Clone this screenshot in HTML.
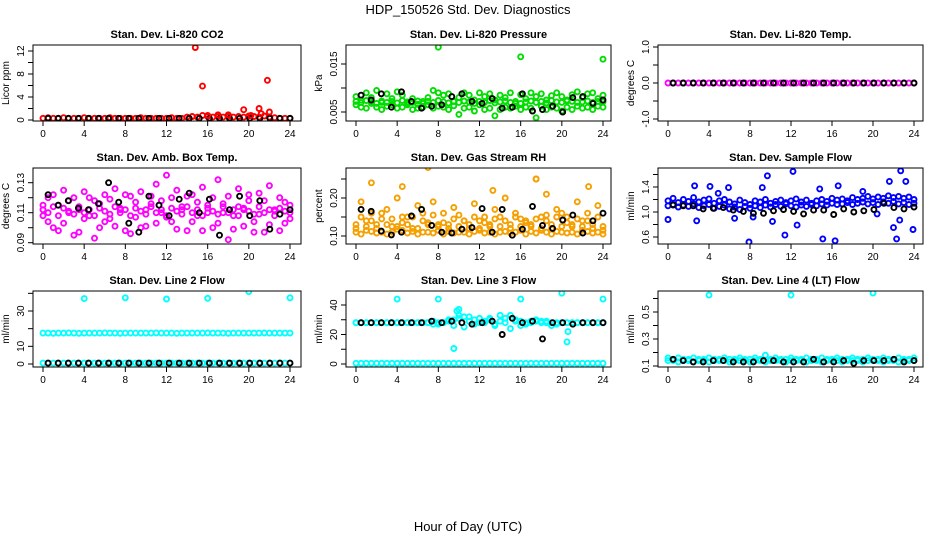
<!DOCTYPE html>
<html><head><meta charset="utf-8"><style>
body{margin:0;background:#fff;}
svg{display:block;font-family:"Liberation Sans",Arial,sans-serif;}
</style></head><body>
<svg id="chart" width="936" height="540" viewBox="0 0 936 540">
<text x="468" y="14" font-size="13" text-anchor="middle">HDP_150526 Std. Dev. Diagnostics</text>
<text x="468" y="531" font-size="13" text-anchor="middle">Hour of Day (UTC)</text>
</svg>
<script>
// ---- data (hours: half-hour grid for 49-value series, hourly 0.5..24 for 25-value series) ----
var xTickLabels = [0,4,8,12,16,20,24];

var co2Red = [0.3,0.4,0.3,0.3,0.4,0.3,0.3,0.3,0.4,0.3,0.3,0.3,0.3,0.4,0.3,0.3,0.3,0.3,0.3,0.4,0.3,0.3,0.3,0.3,0.3,0.4,0.3,0.3,0.5,0.6,0.5,0.8,0.6,0.5,0.6,0.5,0.6,0.5,0.6,0.5,0.7,0.6,0.5,0.7,0.5,0.4,0.3,0.3,0.3];
var co2RedOutX = [14.8,15.5,21.8,19.5,21.0,22.0,16.0,17.0,21.2,20.2,18.0];
var co2RedOutY = [12.6,5.9,6.9,1.8,2.0,1.4,0.8,0.9,1.1,0.8,0.9];
var co2Black = [0.3,0.3,0.3,0.3,0.3,0.3,0.3,0.3,0.3,0.3,0.3,0.3,0.3,0.3,0.3,0.3,0.3,0.3,0.3,0.3,0.3,0.3,0.3,0.3,0.3];

var prGreenA = [0.0082,0.0075,0.0090,0.0080,0.0095,0.0070,0.0088,0.0078,0.0092,0.0085,0.0068,0.0078,0.0066,0.0072,0.0080,0.0095,0.0090,0.0085,0.0088,0.0072,0.0080,0.0090,0.0085,0.0075,0.0090,0.0082,0.0088,0.0075,0.0085,0.0080,0.0090,0.0068,0.0086,0.0078,0.0090,0.0082,0.0088,0.0075,0.0084,0.0090,0.0082,0.0075,0.0086,0.0092,0.0080,0.0088,0.0090,0.0078,0.0085];
var prGreenB = [0.0065,0.0060,0.0058,0.0068,0.0060,0.0055,0.0062,0.0065,0.0058,0.0060,0.0065,0.0055,0.0058,0.0060,0.0065,0.0058,0.0062,0.0060,0.0055,0.0063,0.0045,0.0058,0.0060,0.0052,0.0065,0.0055,0.0058,0.0042,0.0055,0.0060,0.0058,0.0062,0.0055,0.0060,0.0058,0.0038,0.0062,0.0055,0.0060,0.0058,0.0052,0.0060,0.0055,0.0062,0.0058,0.0060,0.0055,0.0062,0.0060];
var prGreenC = [0.0072,0.0070,0.0074,0.0071,0.0068,0.0073,0.0070,0.0072,0.0069,0.0074,0.0071,0.0070,0.0073,0.0068,0.0072,0.0070,0.0074,0.0071,0.0069,0.0072,0.0070,0.0073,0.0071,0.0068,0.0072,0.0070,0.0074,0.0069,0.0071,0.0073,0.0070,0.0072,0.0068,0.0071,0.0073,0.0070,0.0072,0.0069,0.0074,0.0071,0.0070,0.0073,0.0072,0.0070,0.0071,0.0073,0.0070,0.0072,0.0071];
var prOutX = [8.0,16.0,24.0];
var prOutY = [0.0185,0.0165,0.0160];
var prBlack = [0.0085,0.0075,0.0088,0.0060,0.0092,0.0072,0.0058,0.0062,0.0065,0.0082,0.0088,0.0072,0.0068,0.0078,0.0058,0.0060,0.0088,0.0052,0.0055,0.0062,0.0050,0.0080,0.0082,0.0068,0.0075];

var ambMagA = [0.115,0.104,0.122,0.098,0.125,0.110,0.120,0.097,0.124,0.108,0.118,0.100,0.122,0.106,0.126,0.112,0.098,0.121,0.107,0.124,0.101,0.116,0.129,0.110,0.135,0.104,0.125,0.112,0.098,0.122,0.108,0.127,0.115,0.100,0.132,0.110,0.121,0.099,0.126,0.112,0.118,0.104,0.123,0.097,0.128,0.111,0.120,0.103,0.115];
var ambMagB = [0.108,0.120,0.100,0.115,0.103,0.118,0.095,0.112,0.106,0.120,0.093,0.116,0.104,0.119,0.101,0.113,0.122,0.096,0.117,0.100,0.112,0.121,0.103,0.118,0.107,0.120,0.099,0.114,0.121,0.104,0.117,0.098,0.110,0.120,0.103,0.116,0.092,0.108,0.114,0.101,0.122,0.097,0.109,0.118,0.102,0.112,0.098,0.117,0.106];
var ambMagC = [0.112,0.110,0.114,0.108,0.113,0.111,0.109,0.114,0.110,0.112,0.108,0.113,0.111,0.109,0.114,0.110,0.112,0.108,0.113,0.111,0.109,0.114,0.110,0.112,0.108,0.113,0.111,0.109,0.114,0.110,0.112,0.108,0.113,0.111,0.109,0.114,0.110,0.112,0.108,0.113,0.111,0.109,0.114,0.110,0.112,0.108,0.113,0.111,0.110];
var ambBlack = [0.122,0.115,0.118,0.113,0.112,0.116,0.130,0.117,0.103,0.097,0.121,0.115,0.108,0.119,0.123,0.110,0.119,0.095,0.112,0.121,0.108,0.118,0.099,0.109,0.112];

var rhOrA = [0.120,0.190,0.115,0.160,0.130,0.110,0.170,0.125,0.200,0.115,0.150,0.120,0.180,0.110,0.135,0.190,0.115,0.160,0.120,0.175,0.110,0.140,0.120,0.185,0.115,0.150,0.125,0.170,0.110,0.200,0.120,0.160,0.115,0.140,0.125,0.250,0.115,0.155,0.120,0.170,0.110,0.150,0.125,0.190,0.115,0.160,0.120,0.180,0.115];
var rhOrB = [0.110,0.105,0.140,0.112,0.108,0.145,0.105,0.110,0.118,0.150,0.108,0.112,0.105,0.160,0.110,0.108,0.130,0.105,0.112,0.108,0.155,0.110,0.105,0.112,0.140,0.108,0.110,0.105,0.150,0.112,0.108,0.110,0.145,0.105,0.112,0.108,0.150,0.110,0.105,0.112,0.160,0.108,0.110,0.105,0.140,0.112,0.108,0.110,0.105];
var rhOrC = [0.130,0.150,0.125,0.140,0.120,0.160,0.130,0.145,0.125,0.135,0.130,0.150,0.120,0.140,0.130,0.155,0.125,0.135,0.130,0.145,0.125,0.140,0.130,0.150,0.120,0.135,0.130,0.145,0.125,0.140,0.130,0.150,0.125,0.135,0.130,0.145,0.120,0.140,0.130,0.150,0.125,0.135,0.130,0.145,0.125,0.140,0.130,0.150,0.125];
var rhOutX = [1.5,7.0,13.3,17.5,18.5,22.6,4.5];
var rhOutY = [0.24,0.28,0.22,0.25,0.21,0.23,0.23];
var rhBlack = [0.170,0.165,0.113,0.103,0.110,0.153,0.170,0.128,0.110,0.108,0.118,0.122,0.172,0.110,0.170,0.102,0.118,0.178,0.128,0.120,0.142,0.155,0.108,0.140,0.160];

var sfBlueA = [1.18,1.22,1.15,1.20,1.17,1.23,1.16,1.19,1.21,1.14,1.18,1.20,1.16,1.13,1.19,1.15,1.12,1.18,1.16,1.20,1.14,1.17,1.19,1.15,1.18,1.21,1.16,1.19,1.14,1.18,1.20,1.17,1.22,1.19,1.21,1.18,1.23,1.20,1.22,1.25,1.21,1.24,1.22,1.26,1.23,1.25,1.22,1.24,1.20];
var sfBlueB = [1.10,1.12,1.08,1.11,1.09,1.13,1.07,1.10,1.12,1.06,1.09,1.11,1.05,1.08,1.04,1.09,1.06,1.10,1.07,1.11,1.08,1.12,1.09,1.13,1.10,1.08,1.11,1.09,1.12,1.10,1.13,1.11,1.14,1.12,1.13,1.15,1.12,1.14,1.16,1.13,1.15,1.12,1.16,1.14,1.17,1.13,1.15,1.12,1.14];
var sfOutX = [0.0,2.6,2.8,4.1,5.9,7.9,9.2,9.7,10.2,11.4,12.2,12.6,15.1,16.3,16.6,19.0,20.4,21.6,22.0,22.3,22.6,22.7,23.2,23.9,14.8,8.3,6.5,4.9];
var sfOutY = [0.88,1.42,0.86,1.41,1.39,0.52,1.39,1.58,0.85,0.63,1.65,0.79,0.57,0.54,1.42,1.33,0.97,1.49,0.75,0.57,0.87,1.66,1.49,0.72,1.37,0.92,0.90,1.30];
var sfBlack = [1.11,1.10,1.10,1.05,1.06,1.07,1.03,1.01,0.98,0.98,1.02,1.04,1.01,0.97,1.03,1.03,0.96,1.05,1.00,1.02,1.04,1.14,1.07,1.05,1.08];

var l2CyanHigh = [17.5,17.5,17.4,17.5,17.5,17.6,17.5,17.4,17.5,17.5,17.5,17.5,17.6,17.5,17.5,17.4,17.5,17.5,17.5,17.5,17.5,17.5,17.6,17.5,17.5,17.5,17.4,17.5,17.5,17.5,17.5,17.5,17.6,17.5,17.5,17.5,17.4,17.5,17.5,17.5,17.5,17.5,17.5,17.6,17.5,17.5,17.5,17.5,17.5];
var l2CyanLow = [0.5,0.5,0.5,0.5,0.5,0.5,0.5,0.5,0.5,0.5,0.5,0.5,0.5,0.5,0.5,0.5,0.5,0.5,0.5,0.5,0.5,0.5,0.5,0.5,0.5,0.5,0.5,0.5,0.5,0.5,0.5,0.5,0.5,0.5,0.5,0.5,0.5,0.5,0.5,0.5,0.5,0.5,0.5,0.5,0.5,0.5,0.5,0.5,0.5];
var l2OutX = [4.0,8.0,12.0,16.0,20.0,24.0];
var l2OutY = [37.0,37.5,36.8,37.2,41.0,37.5];
var l2Black = [0.5,0.5,0.5,0.5,0.5,0.5,0.5,0.5,0.5,0.5,0.5,0.5,0.5,0.5,0.5,0.5,0.5,0.5,0.5,0.5,0.5,0.5,0.5,0.5,0.5];

var l3CyanHigh = [28,28,28,28,28,28,28,28,28,28,28,28,28,28,28,29,28,28,29,30,31,32,29,27,31,28,30,27,29,31,33,30,26,28,29,29,28,29,28,27,28,28,28,28,28,28,28,28,28];
var l3CyanHigh2 = [28,28,28,28,28,28,28,28,28,28,28,28,28,28,28,27,27,28,30,26,33,25,32,30,28,29,31,26,33,28,24,29,29,27,28,30,29,28,26,28,28,28,28,28,28,28,28,28,28];
var l3CyanLow = [0.5,0.5,0.5,0.5,0.5,0.5,0.5,0.5,0.5,0.5,0.5,0.5,0.5,0.5,0.5,0.5,0.5,0.5,0.5,0.5,0.5,0.5,0.5,0.5,0.5,0.5,0.5,0.5,0.5,0.5,0.5,0.5,0.5,0.5,0.5,0.5,0.5,0.5,0.5,0.5,0.5,0.5,0.5,0.5,0.5,0.5,0.5,0.5,0.5];
var l3OutX = [4.0,8.0,16.0,20.0,24.0,9.5,20.5,20.6,10.0,9.8];
var l3OutY = [44,44,44,48,44,10.5,15,22,37,36];
var l3Black = [28,28,28,28,28,28,28,29,28,29,28,27,28,29,20,31,28,29,17,28,28,27,28,28,28];

var l4Cyan = [0.14,0.14,0.13,0.14,0.14,0.13,0.14,0.14,0.13,0.14,0.14,0.14,0.13,0.14,0.14,0.14,0.13,0.14,0.14,0.13,0.14,0.14,0.14,0.13,0.14,0.14,0.14,0.13,0.14,0.14,0.13,0.14,0.14,0.14,0.13,0.14,0.14,0.14,0.13,0.14,0.14,0.14,0.13,0.14,0.14,0.13,0.14,0.14,0.14];
var l4Cyan2 = [0.16,0.15,0.16,0.15,0.15,0.16,0.15,0.15,0.16,0.15,0.15,0.16,0.15,0.15,0.16,0.15,0.15,0.16,0.15,0.18,0.15,0.16,0.15,0.15,0.16,0.15,0.15,0.16,0.15,0.15,0.16,0.15,0.15,0.16,0.15,0.15,0.16,0.15,0.15,0.16,0.15,0.15,0.16,0.15,0.15,0.16,0.15,0.15,0.16];
var l4OutX = [4.0,12.0,20.0];
var l4OutY = [0.625,0.625,0.64];
var l4Black = [0.15,0.14,0.13,0.13,0.14,0.14,0.13,0.13,0.13,0.14,0.14,0.13,0.13,0.13,0.15,0.13,0.13,0.14,0.12,0.14,0.14,0.14,0.15,0.13,0.14];

// ---- layout ----
var NS = "http://www.w3.org/2000/svg";
var svg = document.getElementById('chart');
var cols = [{L:33,R:301,x0:43,x1:290},{L:346,R:611,x0:356,x1:603},{L:658,R:923,x0:668,x1:914}];
var rows = [{T:45,B:121},{T:168,B:244},{T:291,B:367}];
function mk(tag, attrs){var e=document.createElementNS(NS,tag);for(var k in attrs)e.setAttribute(k,attrs[k]);return e;}
function halfHours(n){var a=[];for(var i=0;i<n;i++)a.push(i*24/(n-1));return a;}
function hourly(n){var a=[];for(var i=0;i<n;i++)a.push(0.5+i*23.5/(n-1));return a;}

var panels = [
 {id:'co2',r:0,c:0,title:'Stan. Dev. Li-820 CO2',ylab:'Licor ppm',v0:0,p0:120,v1:12,p1:51,ticks:[0,2,4,6,8,10,12],labels:[0,4,8,12],fmt:function(v){return String(v);},
  series:[{x:halfHours(49),y:co2Red,col:'#ff0000'},{x:hourly(25),y:co2Black,col:'#000'},{x:co2RedOutX,y:co2RedOutY,col:'#ff0000'}]},
 {id:'pressure',r:0,c:1,title:'Stan. Dev. Li-820 Pressure',ylab:'kPa',v0:0.005,p0:112,v1:0.015,p1:64,ticks:[0.005,0.010,0.015],labels:[0.005,0.015],fmt:function(v){return v.toFixed(3);},
  series:[{x:halfHours(49),y:prGreenA,col:'#00dd00'},{x:halfHours(49),y:prGreenB,col:'#00dd00'},{x:halfHours(49),y:prGreenC,col:'#00dd00'},{x:prOutX,y:prOutY,col:'#00dd00'},{x:hourly(25),y:prBlack,col:'#000'}]},
 {id:'temp',r:0,c:2,title:'Stan. Dev. Li-820 Temp.',ylab:'degrees C',v0:0,p0:83,v1:1,p1:47,ticks:[-1,-0.5,0,0.5,1],labels:[-1,0,1],fmt:function(v){return v.toFixed(1);},
  series:[{x:halfHours(49),y:l2CyanLow.map(function(){return 0;}),col:'#ff00ff'},{x:hourly(25),y:co2Black.map(function(){return 0;}),col:'#000'}]},
 {id:'amb',r:1,c:0,title:'Stan. Dev. Amb. Box Temp.',ylab:'degrees C',v0:0.09,p0:242.7,v1:0.13,p1:182.7,ticks:[0.09,0.10,0.11,0.12,0.13],labels:[0.09,0.11,0.13],fmt:function(v){return v.toFixed(2);},
  series:[{x:halfHours(49),y:ambMagA,col:'#ff00ff'},{x:halfHours(49),y:ambMagB,col:'#ff00ff'},{x:halfHours(49),y:ambMagC,col:'#ff00ff'},{x:hourly(25),y:ambBlack,col:'#000'}]},
 {id:'rh',r:1,c:1,title:'Stan. Dev. Gas Stream RH',ylab:'percent',v0:0.10,p0:236,v1:0.20,p1:198,ticks:[0.10,0.15,0.20,0.25],labels:[0.10,0.20],fmt:function(v){return v.toFixed(2);},
  series:[{x:halfHours(49),y:rhOrA,col:'#f5a000'},{x:halfHours(49),y:rhOrB,col:'#f5a000'},{x:halfHours(49),y:rhOrC,col:'#f5a000'},{x:rhOutX,y:rhOutY,col:'#f5a000'},{x:hourly(25),y:rhBlack,col:'#000'}]},
 {id:'sample-flow',r:1,c:2,title:'Stan. Dev. Sample Flow',ylab:'ml/min',v0:0.6,p0:237,v1:1.4,p1:187,ticks:[0.6,0.8,1.0,1.2,1.4,1.6],labels:[0.6,1.0,1.4],fmt:function(v){return v.toFixed(1);},
  series:[{x:halfHours(49),y:sfBlueA,col:'#0000ff'},{x:halfHours(49),y:sfBlueB,col:'#0000ff'},{x:sfOutX,y:sfOutY,col:'#0000ff'},{x:hourly(25),y:sfBlack,col:'#000'}]},
 {id:'line2',r:2,c:0,title:'Stan. Dev. Line 2 Flow',ylab:'ml/min',v0:0,p0:364,v1:30,p1:311,ticks:[0,10,20,30,40],labels:[0,10,30],fmt:function(v){return String(v);},
  series:[{x:halfHours(49),y:l2CyanHigh,col:'#00ffff'},{x:halfHours(49),y:l2CyanLow,col:'#00ffff'},{x:l2OutX,y:l2OutY,col:'#00ffff'},{x:hourly(25),y:l2Black,col:'#000'}]},
 {id:'line3',r:2,c:1,title:'Stan. Dev. Line 3 Flow',ylab:'ml/min',v0:0,p0:364,v1:40,p1:305,ticks:[0,10,20,30,40],labels:[0,20,40],fmt:function(v){return String(v);},
  series:[{x:halfHours(49),y:l3CyanHigh,col:'#00ffff'},{x:halfHours(49),y:l3CyanHigh2,col:'#00ffff'},{x:halfHours(49),y:l3CyanLow,col:'#00ffff'},{x:l3OutX,y:l3OutY,col:'#00ffff'},{x:hourly(25),y:l3Black,col:'#000'}]},
 {id:'line4',r:2,c:2,title:'Stan. Dev. Line 4 (LT) Flow',ylab:'ml/min',v0:0.1,p0:366,v1:0.5,p1:312,ticks:[0.1,0.2,0.3,0.4,0.5,0.6],labels:[0.1,0.3,0.5],fmt:function(v){return v.toFixed(1);},
  series:[{x:halfHours(49),y:l4Cyan,col:'#00ffff'},{x:halfHours(49),y:l4Cyan2,col:'#00ffff'},{x:l4OutX,y:l4OutY,col:'#00ffff'},{x:hourly(25),y:l4Black,col:'#000'}]}
];

panels.forEach(function(p){
  var c=cols[p.c], r=rows[p.r];
  var g=mk('g',{});
  
  
  svg.appendChild(g);
  function xs(h){return c.x0+(h/24)*(c.x1-c.x0);}
  function ys(v){return p.p0+(v-p.v0)*(p.p1-p.p0)/(p.v1-p.v0);}
  var t=mk('text',{x:(c.L+c.R)/2,y:r.T-7,'font-size':'11','font-weight':'bold','text-anchor':'middle'});
  t.textContent=p.title;
  
  
  g.appendChild(t);
  var clip=mk('clipPath',{id:'clip-'+p.id});clip.appendChild(mk('rect',{x:c.L,y:r.T,width:c.R-c.L,height:r.B-r.T}));g.appendChild(clip);
  var pts=mk('g',{'clip-path':'url(#clip-'+p.id+')'});
  
  
  g.appendChild(pts);
  p.series.forEach(function(s){
    for(var i=0;i<s.y.length;i++){
      var ci=mk('circle',{cx:xs(s.x[i]).toFixed(1),cy:ys(s.y[i]).toFixed(1),r:2.5,fill:'none',stroke:s.col,'stroke-width':1.9});
      
      
      pts.appendChild(ci);
    }
  });
  var box=mk('rect',{x:c.L,y:r.T,width:c.R-c.L,height:r.B-r.T,fill:'none',stroke:'#000','stroke-width':1});
  
  
  g.appendChild(box);
  var xa=mk('g',{});
  
  
  g.appendChild(xa);
  xTickLabels.forEach(function(h){
    var x=xs(h);
    xa.appendChild(mk('line',{x1:x,x2:x,y1:r.B,y2:r.B+5,stroke:'#000'}));
    var tl=mk('text',{x:x,y:r.B+16,'font-size':'10','text-anchor':'middle'});tl.textContent=h;
    
    
    xa.appendChild(tl);
  });
  var ya=mk('g',{});
  
  
  g.appendChild(ya);
  p.ticks.forEach(function(v){var y=ys(v);ya.appendChild(mk('line',{x1:c.L-5,x2:c.L,y1:y,y2:y,stroke:'#000'}));});
  p.labels.forEach(function(v){
    var y=ys(v), lx=c.L-9;
    var tl=mk('text',{x:lx,y:y,'font-size':'10','text-anchor':'middle',transform:'rotate(-90 '+lx+' '+y+')'});
    tl.textContent=p.fmt(v);
    
    
    ya.appendChild(tl);
  });
  var yl=c.L-24, ym=(r.T+r.B)/2;
  var ylab=mk('text',{x:yl,y:ym,'font-size':'10','text-anchor':'middle',transform:'rotate(-90 '+yl+' '+ym+')'});
  ylab.textContent=p.ylab;
  
  
  g.appendChild(ylab);
});
</script>
</body></html>
